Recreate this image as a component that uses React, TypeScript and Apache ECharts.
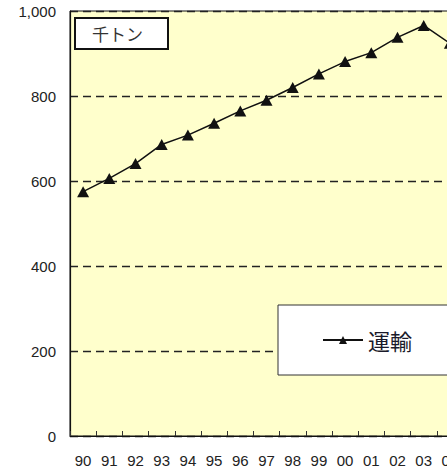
import React, { useEffect, useRef } from "react";
import * as echarts from "echarts";

const years = ["90", "91", "92", "93", "94", "95", "96", "97", "98", "99", "00", "01", "02", "03", "04"];
const transport = [575, 606, 641, 686, 708, 736, 765, 790, 820, 852, 881, 902, 938, 966, 924];
const seriesName = "運輸";
const unitLabel = "千トン";

export default function App() {
  const ref = useRef<HTMLDivElement>(null);
  useEffect(() => {
    if (!ref.current) return;
    const chart = echarts.init(ref.current, undefined, { renderer: "svg" });
    const font = "'Liberation Sans', Arial, sans-serif";
    chart.setOption({
      animation: false,
      title: {
        text: unitLabel,
        left: 75,
        top: 18,
        padding: [7, 25, 7, 17],
        borderWidth: 2,
        borderColor: "#111",
        backgroundColor: "#fff",
        textStyle: { fontSize: 17, fontWeight: "normal", color: "#333", fontFamily: "'Noto Sans CJK JP', sans-serif" },
      },
      legend: {
        left: 278,
        top: 305,
        padding: [24, 90, 24, 44],
        backgroundColor: "#fff",
        borderColor: "#333",
        borderWidth: 1,
        borderRadius: 0,
        itemWidth: 40,
        itemHeight: 10,
        itemGap: 8,
        textStyle: { fontSize: 22, color: "#1a1a2a", fontFamily: "'Noto Sans CJK JP', sans-serif" },
        data: [seriesName],
      },
      grid: {
        left: 70,
        top: 11,
        width: 393,
        height: 425,
        show: true,
        backgroundColor: "#FFFFCC",
        borderColor: "#111",
        borderWidth: 1,
      },
      xAxis: {
        type: "category",
        data: years,
        boundaryGap: true,
        axisLine: { lineStyle: { color: "#111", width: 1.2 } },
        axisTick: { show: true, inside: true, length: 5, lineStyle: { color: "#333" } },
        axisLabel: { fontSize: 15, color: "#222", margin: 17, fontFamily: font, interval: 0 },
      },
      yAxis: {
        type: "value",
        min: 0,
        max: 1000,
        interval: 200,
        axisLine: { show: true, lineStyle: { color: "#111", width: 1.2 } },
        axisTick: { show: false },
        axisLabel: {
          fontSize: 15,
          color: "#222",
          margin: 14,
          fontFamily: font,
          formatter: (v: number) => v.toLocaleString("en-US"),
        },
        splitLine: { show: true, lineStyle: { color: "#222", width: 1.4, type: [8, 5] } },
      },
      series: [
        {
          name: seriesName,
          type: "line",
          data: transport,
          symbol: "triangle",
          symbolSize: [12, 11],
          itemStyle: { color: "#111" },
          lineStyle: { color: "#111", width: 1.5 },
        },
      ],
    });
    return () => chart.dispose();
  }, []);
  return (
    <div style={{ position: "fixed", left: 0, top: 0, width: 447, height: 469, overflow: "hidden", background: "#fff" }}>
      <div ref={ref} style={{ width: 490, height: 469 }} />
    </div>
  );
}
